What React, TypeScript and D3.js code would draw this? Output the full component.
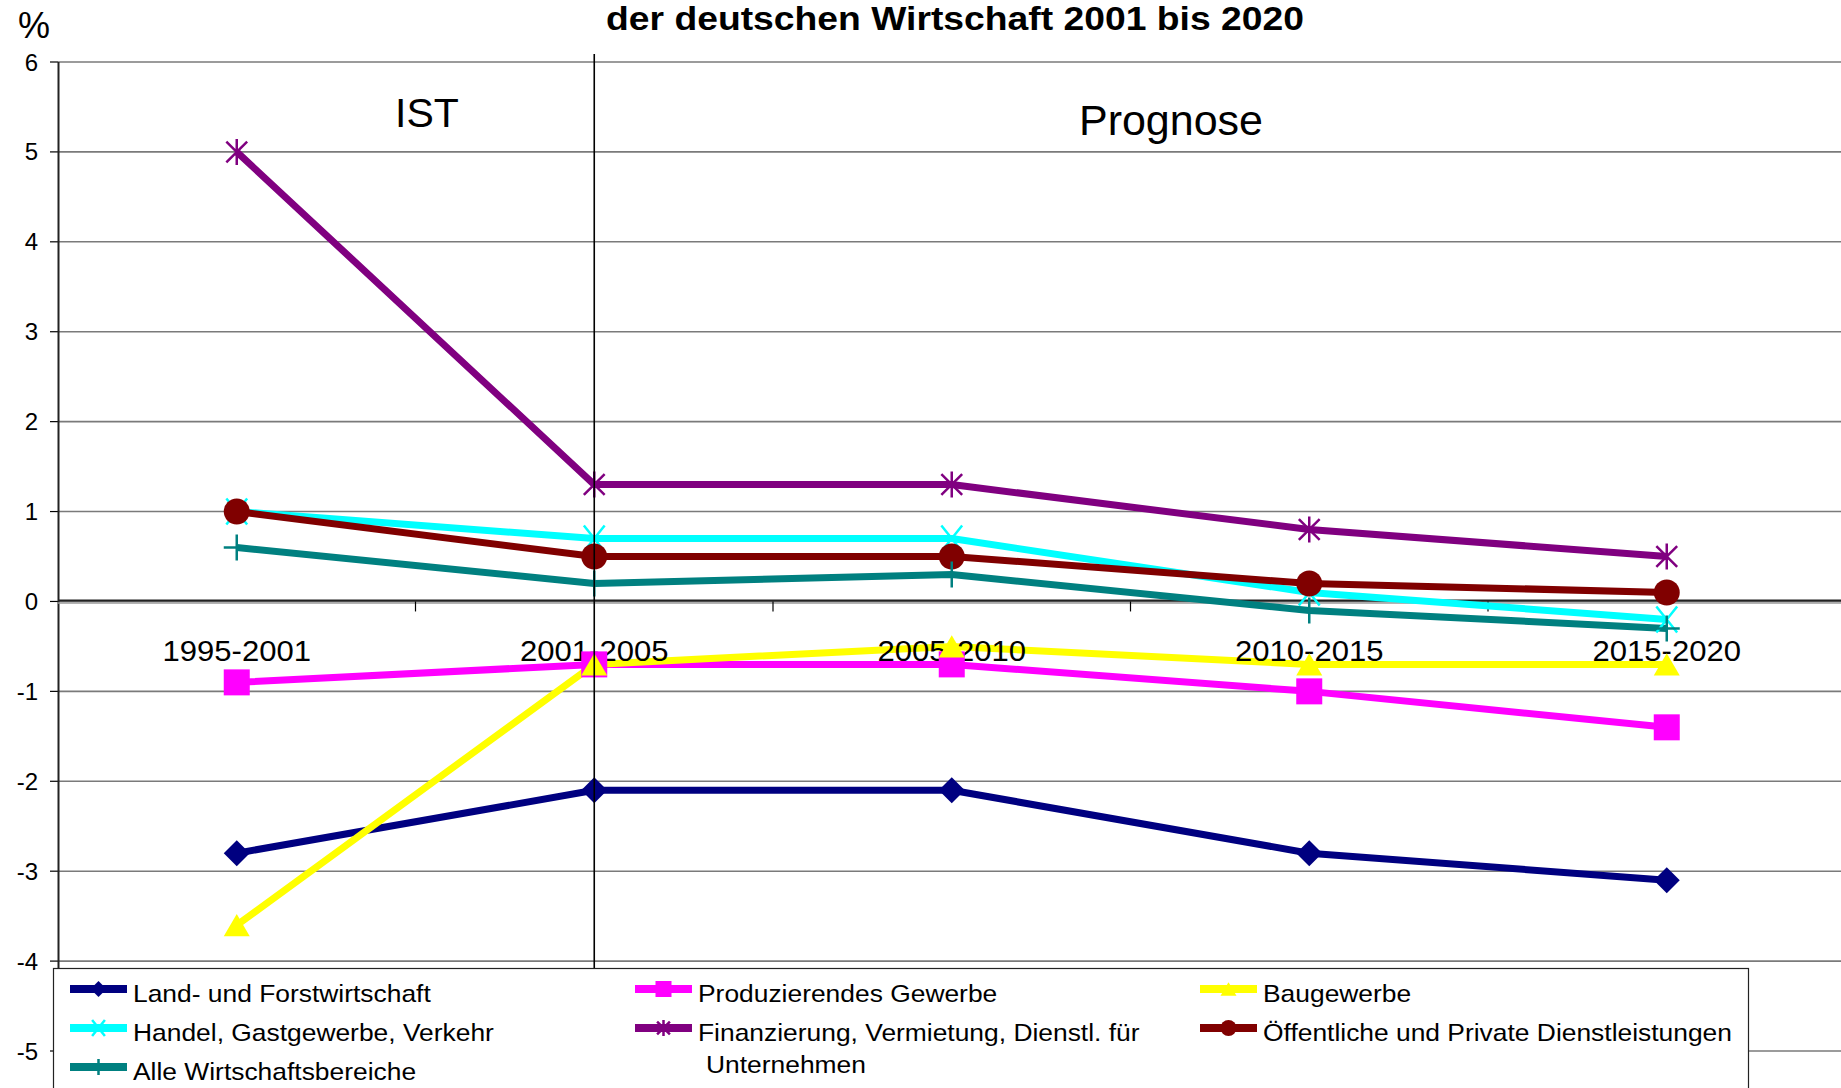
import React from "react";
import * as d3 from "d3";

const categories = ["1995-2001", "2001-2005", "2005-2010", "2010-2015", "2015-2020"];
const yTicks = [6, 5, 4, 3, 2, 1, 0, -1, -2, -3, -4, -5];

const landForst = [-2.8, -2.1, -2.1, -2.8, -3.1];
const produzierend = [-0.9, -0.7, -0.7, -1.0, -1.4];
const bau = [-3.6, -0.7, -0.5, -0.7, -0.7];
const handel = [1.0, 0.7, 0.7, 0.1, -0.2];
const finanz = [5.0, 1.3, 1.3, 0.8, 0.5];
const oeffentlich = [1.0, 0.5, 0.5, 0.2, 0.1];
const alle = [0.6, 0.2, 0.3, -0.1, -0.3];

const seriesNames = [
  "Land- und Forstwirtschaft",
  "Produzierendes Gewerbe",
  "Baugewerbe",
  "Handel, Gastgewerbe, Verkehr",
  "Finanzierung, Vermietung, Dienstl. für",
  "Öffentliche und Private Dienstleistungen",
  "Alle Wirtschaftsbereiche",
];
const seriesValues = [landForst, produzierend, bau, handel, finanz, oeffentlich, alle];
const seriesColors = ["#000080", "#FF00FF", "#FFFF00", "#00FFFF", "#800080", "#800000", "#008080"];
const seriesMarkers = ["diamond", "square", "triangle", "x", "asterisk", "circle", "plus"];

const titleLine = "der deutschen Wirtschaft 2001 bis 2020";

const FONT = "'Liberation Sans', Arial, Helvetica, sans-serif";

function Marker({ type, x, y, color, s }: { type: string; x: number; y: number; color: string; s: number }) {
  const h = s / 2;
  switch (type) {
    case "diamond":
      return <path d={`M${x},${y - h}L${x + h},${y}L${x},${y + h}L${x - h},${y}Z`} fill={color} />;
    case "square":
      return <rect x={x - h} y={y - h} width={s} height={s} fill={color} />;
    case "triangle":
      return <path d={`M${x},${y - h * 0.85}L${x + h},${y + h * 0.85}L${x - h},${y + h * 0.85}Z`} fill={color} />;
    case "circle":
      return <ellipse cx={x} cy={y} rx={h} ry={h} fill={color} />;
    case "x":
      return (
        <path
          d={`M${x - h * 0.8},${y - h}L${x + h * 0.8},${y + h}M${x - h * 0.8},${y + h}L${x + h * 0.8},${y - h}`}
          stroke={color}
          strokeWidth={2.5}
          fill="none"
        />
      );
    case "asterisk":
      return (
        <path
          d={`M${x - h * 0.8},${y - h * 0.8}L${x + h * 0.8},${y + h * 0.8}M${x - h * 0.8},${y + h * 0.8}L${x + h * 0.8},${y - h * 0.8}M${x},${y - h}L${x},${y + h}`}
          stroke={color}
          strokeWidth={2.5}
          fill="none"
        />
      );
    case "plus":
      return (
        <path
          d={`M${x - h},${y}L${x + h},${y}M${x},${y - h}L${x},${y + h}`}
          stroke={color}
          strokeWidth={2.5}
          fill="none"
        />
      );
    default:
      return null;
  }
}

export default function App() {
  const W = 1841;
  const H = 1088;
  const x = d3.scaleBand<string>().domain(categories).range([58, 1845.5]).paddingInner(0).paddingOuter(0);
  const y = d3.scaleLinear().domain([-5, 6]).range([1051, 62]);
  const cx = (c: string) => (x(c) as number) + x.bandwidth() / 2;

  const line = d3
    .line<number>()
    .x((_, i) => cx(categories[i]))
    .y((v) => y(v));

  const boundaries = categories.map((c) => (x(c) as number) + x.bandwidth());
  const dividerX = cx("2001-2005");

  const legendTextX = [133, 698, 1263];
  const legendBase = [1002, 1041, 1080];

  return (
    <svg
      width={W}
      height={H}
      style={{ position: "absolute", left: 0, top: 0, background: "#fff" }}
      fontFamily={FONT}
    >
      <rect x={0} y={0} width={W} height={H} fill="#fff" />
      {/* title (visible line) */}
      <g transform={`translate(955,30) scale(1.13,1)`}>
        <text textAnchor="middle" fontSize={33} fontWeight="bold" fill="#000">
          {titleLine}
        </text>
      </g>
      {/* % label */}
      <text x={18} y={38} fontSize={36} fill="#000">
        %
      </text>

      {/* gridlines */}
      {yTicks.map((t) => (
        <line key={"g" + t} x1={58} x2={1845} y1={y(t)} y2={y(t)} stroke="#7a7a7a" strokeWidth={1.6} />
      ))}
      {/* y ticks and labels */}
      {yTicks.map((t) => (
        <g key={"t" + t}>
          <line x1={50} x2={58} y1={y(t)} y2={y(t)} stroke="#000" strokeWidth={1.2} />
          <text x={38} y={y(t) + 8.5} textAnchor="end" fontSize={24} fill="#000">
            {String(t)}
          </text>
        </g>
      ))}
      {/* y axis */}
      <line x1={58.5} x2={58.5} y1={y(6)} y2={y(-5) + 10} stroke="#222" strokeWidth={2} />
      {/* x axis at 0 */}
      <line x1={58} x2={1845} y1={y(0) - 1} y2={y(0) - 1} stroke="#222" strokeWidth={2} />
      <line x1={58} x2={1845} y1={y(0) + 1.5} y2={y(0) + 1.5} stroke="#9a9a9a" strokeWidth={1.5} />
      {boundaries.map((b, i) => (
        <line key={"xt" + i} x1={b} x2={b} y1={y(0)} y2={y(0) + 10} stroke="#000" strokeWidth={1.2} />
      ))}

      {/* IST / Prognose */}
      <text x={427} y={127} textAnchor="middle" fontSize={41} fill="#000">
        IST
      </text>
      <text x={1171} y={135} textAnchor="middle" fontSize={43} fill="#000">
        Prognose
      </text>

      {/* series lines */}
      {seriesValues.map((vals, si) => (
        <path
          key={"l" + si}
          d={line(vals) as string}
          fill="none"
          stroke={seriesColors[si]}
          strokeWidth={7}
          strokeLinejoin="round"
        />
      ))}

      {/* category labels */}
      {categories.map((c) => (
        <g key={"c" + c} transform={`translate(${cx(c)},661) scale(1.07,1)`}>
          <text textAnchor="middle" fontSize={29} fill="#000">
            {c}
          </text>
        </g>
      ))}

      {/* markers */}
      {seriesValues.map((vals, si) => (
        <g key={"m" + si}>
          {vals.map((v, i) => (
            <Marker key={i} type={seriesMarkers[si]} x={cx(categories[i])} y={y(v)} color={seriesColors[si]} s={26} />
          ))}
        </g>
      ))}

      {/* divider */}
      <line x1={dividerX} x2={dividerX} y1={54} y2={968} stroke="#000" strokeWidth={1.6} />

      {/* legend */}
      <rect x={53.5} y={968.5} width={1695} height={200} fill="#fff" stroke="#222" strokeWidth={1.2} />
      {seriesNames.map((name, si) => {
        const col = si % 3;
        const row = Math.floor(si / 3);
        const tx = legendTextX[col];
        const by = legendBase[row];
        const ly = by - 13;
        return (
          <g key={"lg" + si}>
            <line x1={tx - 63} x2={tx - 6} y1={ly} y2={ly} stroke={seriesColors[si]} strokeWidth={8} />
            <Marker type={seriesMarkers[si]} x={tx - 34.5} y={ly} color={seriesColors[si]} s={16} />
            <g transform={`translate(${tx},${by}) scale(1.1,1)`}>
              <text fontSize={24} fill="#000">
                {name}
              </text>
            </g>
          </g>
        );
      })}
      <g transform={`translate(${legendTextX[1] + 8},1073) scale(1.1,1)`}>
        <text fontSize={24} fill="#000">
          Unternehmen
        </text>
      </g>
    </svg>
  );
}
